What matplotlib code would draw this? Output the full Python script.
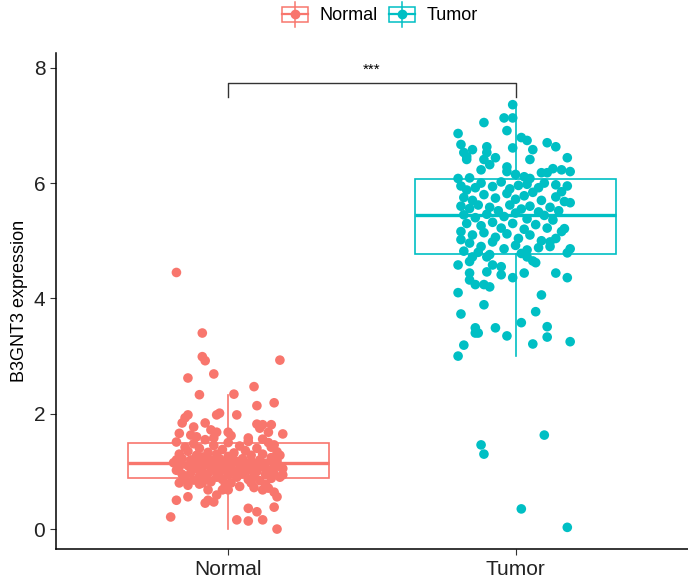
import matplotlib
matplotlib.use("Agg")
import matplotlib.pyplot as plt
from matplotlib.legend_handler import HandlerBase
from matplotlib.lines import Line2D
from matplotlib.patches import Rectangle

plt.rcParams['font.family'] = ['Liberation Sans', 'DejaVu Sans']

groups = ["Normal", "Tumor"]
colors = ["#F8766D", "#00BFC4"]

# box statistics (whislo, q1, median, q3, whishi)
normal_box = [0.00, 0.88, 1.15, 1.50, 2.33]
tumor_box = [3.00, 4.77, 5.44, 6.07, 7.36]

# jittered points: (horizontal offset from group centre, expression)
normal_pts = [
    (-0.18, 4.45), (-0.09, 3.40), (-0.09, 2.99), (-0.08, 2.92), (0.18, 2.93), (-0.05, 2.69),
    (-0.14, 2.62), (0.09, 2.47), (-0.10, 2.33), (0.02, 2.34), (0.10, 2.14), (0.16, 2.19),
    (-0.14, 1.98), (-0.15, 1.93), (-0.03, 2.01), (-0.04, 1.98), (0.03, 1.98), (-0.16, 1.84),
    (-0.08, 1.84), (-0.12, 1.77), (0.10, 1.82), (0.12, 1.81), (0.15, 1.81), (0.11, 1.75),
    (0.14, 1.68), (0.19, 1.65), (-0.06, 1.72), (-0.04, 1.68), (0.00, 1.68), (-0.17, 1.66),
    (-0.13, 1.63), (0.07, 1.58), (-0.18, 1.51), (0.15, 1.42),
    (-0.20, 0.21), (-0.18, 0.50), (-0.14, 0.56), (-0.08, 0.45), (-0.07, 0.50), (-0.05, 0.47),
    (0.03, 0.16), (0.07, 0.14), (0.12, 0.16), (0.07, 0.36), (0.10, 0.30), (0.17, 0.00),
    (0.16, 0.38), (0.00, 0.68), (-0.02, 0.68), (-0.07, 0.68), (0.12, 0.68), (0.14, 0.71),
    (0.16, 0.64), (0.17, 0.56), (-0.04, 0.59), (-0.10, 0.78), (-0.17, 0.80), (0.08, 0.80),
    (0.19, 0.94), (0.18, 1.08),
    (-0.19, 1.15), (-0.18, 1.02), (-0.17, 1.30), (-0.16, 0.95), (-0.16, 1.22), (-0.15, 1.42),
    (-0.15, 0.88), (-0.14, 1.10), (-0.14, 1.35), (-0.13, 0.98), (-0.13, 1.20), (-0.12, 1.48),
    (-0.12, 0.85), (-0.11, 1.05), (-0.11, 1.28), (-0.10, 0.92), (-0.10, 1.16), (-0.10, 1.40),
    (-0.09, 1.00), (-0.09, 1.25), (-0.08, 0.87), (-0.08, 1.12), (-0.08, 1.55), (-0.07, 0.96),
    (-0.07, 1.33), (-0.06, 1.08), (-0.06, 1.20), (-0.06, 0.82), (-0.05, 1.45), (-0.05, 1.02),
    (-0.04, 1.14), (-0.04, 0.90), (-0.04, 1.30), (-0.03, 1.22), (-0.03, 0.98), (-0.02, 1.10),
    (-0.02, 1.38), (-0.02, 0.86), (-0.01, 1.18), (-0.01, 1.04), (0.00, 0.94), (0.00, 1.26),
    (0.00, 1.50), (0.01, 1.12), (0.01, 0.80), (0.02, 1.00), (0.02, 1.32), (0.03, 1.16),
    (0.03, 0.90), (0.04, 1.06), (0.04, 1.44), (0.05, 1.22), (0.05, 0.96), (0.06, 1.12),
    (0.06, 1.36), (0.07, 0.86), (0.07, 1.02), (0.08, 1.18), (0.08, 1.28), (0.09, 0.92),
    (0.09, 1.10), (0.10, 1.40), (0.10, 1.00), (0.11, 1.20), (0.11, 0.84), (0.12, 1.08),
    (0.12, 1.30), (0.13, 0.95), (0.13, 1.14), (0.14, 1.50), (0.14, 1.02), (0.15, 0.88),
    (0.15, 1.24), (0.16, 1.10), (0.16, 0.96), (0.17, 1.34), (0.17, 1.18), (0.18, 0.90),
    (0.18, 1.28), (0.19, 1.05), (-0.17, 1.08), (-0.12, 1.14), (-0.07, 1.16), (-0.03, 1.06),
    (0.02, 1.20), (0.06, 1.04), (0.11, 1.14), (-0.09, 0.80), (-0.14, 0.76), (0.04, 0.74),
    (-0.01, 0.76), (0.09, 0.72), (0.13, 0.78), (-0.11, 1.60), (0.01, 1.62), (0.07, 1.52),
    (-0.05, 1.58), (0.12, 1.56), (-0.18, 1.20), (0.16, 1.46),
]

tumor_pts = [
    (-0.01, 7.36), (-0.01, 7.13), (-0.04, 7.13), (-0.11, 7.05), (-0.03, 6.91), (-0.20, 6.86),
    (0.02, 6.79), (0.04, 6.74), (0.11, 6.70), (0.14, 6.63), (-0.19, 6.67), (-0.10, 6.63),
    (-0.01, 6.61), (0.06, 6.58), (-0.15, 6.58), (-0.18, 6.53), (-0.17, 6.46), (-0.10, 6.53),
    (-0.11, 6.41), (-0.07, 6.44), (0.18, 6.44), (0.05, 6.41), (-0.17, 6.41), (-0.09, 6.32),
    (-0.03, 6.28), (-0.12, 6.23), (0.19, 6.20), (0.16, 6.23), (0.13, 6.25), (0.11, 6.18),
    (0.09, 6.18), (-0.03, 6.20), (0.00, 6.15), (0.03, 6.11), (0.05, 6.08), (-0.20, 6.08),
    (-0.16, 6.09),
    (0.14, 5.97), (0.14, 5.76), (0.18, 5.95), (0.16, 5.85), (0.17, 5.68), (0.19, 5.66),
    (-0.19, 5.02), (0.17, 5.21), (0.16, 5.16), (0.12, 4.98), (0.12, 4.90), (0.19, 4.86),
    (0.18, 4.79),
    (-0.20, 4.58), (-0.16, 4.64), (-0.15, 4.72), (-0.10, 4.72), (-0.08, 4.58), (-0.05, 4.55),
    (0.04, 4.72), (0.07, 4.62), (0.06, 4.65), (0.14, 4.44), (0.18, 4.36), (0.03, 4.44),
    (-0.01, 4.36), (-0.16, 4.44), (-0.16, 4.32), (-0.10, 4.46), (-0.05, 4.41), (-0.14, 4.24),
    (-0.11, 4.24), (-0.09, 4.20),
    (-0.20, 4.10), (-0.11, 3.89), (0.09, 4.06), (-0.19, 3.73), (0.07, 3.77), (0.02, 3.58),
    (-0.14, 3.49), (-0.14, 3.40), (-0.13, 3.40), (-0.07, 3.49), (-0.03, 3.35), (0.11, 3.51),
    (0.11, 3.33), (-0.18, 3.19), (0.06, 3.21), (0.19, 3.25), (-0.20, 3.00),
    (-0.12, 1.46), (-0.11, 1.30), (0.10, 1.63), (0.02, 0.35), (0.18, 0.03),
    (-0.19, 5.95), (-0.17, 5.88), (-0.14, 5.92), (-0.12, 6.00), (-0.08, 5.94), (-0.05, 6.02),
    (-0.02, 5.90), (0.01, 5.96), (0.04, 5.98), (0.08, 5.92), (0.10, 6.00), (-0.18, 5.75),
    (-0.15, 5.70), (-0.11, 5.80), (-0.07, 5.74), (-0.03, 5.82), (0.00, 5.72), (0.03, 5.78),
    (0.06, 5.84), (0.09, 5.70), (-0.19, 5.60), (-0.16, 5.56), (-0.13, 5.62), (-0.09, 5.58),
    (-0.06, 5.52), (-0.02, 5.62), (0.02, 5.55), (0.05, 5.60), (0.08, 5.50), (0.12, 5.58),
    (0.15, 5.52), (-0.18, 5.45), (-0.14, 5.40), (-0.10, 5.46), (-0.04, 5.42), (0.00, 5.48),
    (0.04, 5.38), (0.10, 5.44), (0.13, 5.36), (-0.17, 5.30), (-0.12, 5.26), (-0.08, 5.32),
    (-0.05, 5.22), (-0.01, 5.30), (0.03, 5.20), (0.07, 5.28), (0.11, 5.22), (-0.19, 5.16),
    (-0.15, 5.10), (-0.11, 5.14), (-0.07, 5.06), (-0.03, 5.12), (0.01, 5.04), (0.05, 5.10),
    (0.09, 5.00), (-0.16, 4.96), (-0.12, 4.90), (-0.08, 4.98), (-0.04, 4.86), (0.00, 4.92),
    (0.04, 4.84), (0.08, 4.88), (-0.18, 4.82), (-0.13, 4.80), (-0.09, 4.76), (0.02, 4.78),
    (0.14, 5.04),
]

sig_label = "***"
bracket_y = 7.73
bracket_drop = 0.23


class BoxKey(HandlerBase):
    # legend key like ggplot's boxplot + point glyph
    def create_artists(self, legend, orig_handle, xdescent, ydescent,
                       width, height, fontsize, trans):
        c = orig_handle.get_color()
        cx = width / 2 - xdescent
        cy = height / 2 - ydescent
        bw, bh = width * 0.95, height * 0.75
        box = Rectangle((cx - bw / 2, cy - bh / 2), bw, bh, fill=False,
                        ec=c, lw=1.1, transform=trans)
        whisk = Line2D([cx, cx], [cy - height * 0.62, cy + height * 0.62],
                       color=c, lw=1.1, transform=trans)
        med = Line2D([cx - bw / 2, cx + bw / 2], [cy, cy], color=c, lw=1.6,
                     transform=trans)
        dot = Line2D([cx], [cy], marker="o", ms=6, color=c, transform=trans)
        return [whisk, box, med, dot]


fig = plt.figure(figsize=(6.88, 5.80), dpi=100)
ax = fig.add_axes([0.081, 0.053, 0.919, 0.855])

stats = []
for name, b in zip(groups, [normal_box, tumor_box]):
    stats.append(dict(label=name, whislo=b[0], q1=b[1], med=b[2], q3=b[3], whishi=b[4]))

for i, (st, col) in enumerate(zip(stats, colors)):
    ax.bxp([st], positions=[i + 1], widths=0.7, showfliers=False, showcaps=False,
           patch_artist=True,
           boxprops=dict(facecolor="white", edgecolor=col, lw=1.2),
           whiskerprops=dict(color=col, lw=1.2),
           medianprops=dict(color=col, lw=2.4))

for i, (pts, col) in enumerate(zip([normal_pts, tumor_pts], colors)):
    xs = [i + 1 + p[0] for p in pts]
    ys = [p[1] for p in pts]
    ax.scatter(xs, ys, s=48, color=col, edgecolors="none", zorder=3)

# significance bracket
ax.plot([1, 1, 2, 2], [bracket_y - bracket_drop, bracket_y, bracket_y, bracket_y - bracket_drop],
        color="#333333", lw=1.0)
ax.text(1.5, bracket_y + 0.12, sig_label, ha="center", va="bottom", fontsize=11)

ax.set_xlim(0.4, 2.6)
ax.set_ylim(-0.35, 8.25)
ax.set_xticks([1, 2])
ax.set_xticklabels(groups, fontsize=15)
ax.set_yticks([0, 2, 4, 6, 8])
ax.tick_params(axis="y", labelsize=15, length=4, color="#333333", labelcolor="#222222")
ax.tick_params(axis="x", length=4, color="#333333", labelcolor="#222222")
ax.set_ylabel("B3GNT3 expression", fontsize=13)
for s in ["top", "right"]:
    ax.spines[s].set_visible(False)
for s in ["left", "bottom"]:
    ax.spines[s].set_linewidth(1.1)

handles = [Line2D([], [], color=c) for c in colors]
fig.legend(handles, groups, loc="center", bbox_to_anchor=(0.552, 0.975), ncol=2,
           frameon=False, fontsize=13, handler_map={Line2D: BoxKey()},
           handlelength=1.5, handleheight=1.3, handletextpad=0.6, columnspacing=0.6)

fig.savefig("out.png", dpi=100)
